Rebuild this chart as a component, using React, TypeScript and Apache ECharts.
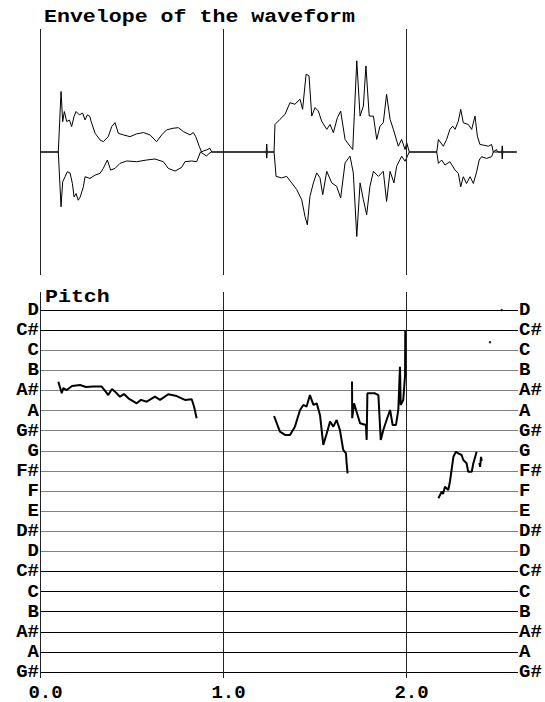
import React, { useEffect, useRef } from "react";
import * as echarts from "echarts";

// Time axis (seconds)
const xMin = 0;
const xMax = 2.612;
const timeTicks = [0, 1, 2];

// Note names, from the lowest line (index 0) to the highest
const noteNames = ["G#", "A", "A#", "B", "C", "C#", "D", "D#", "E", "F", "F#", "G", "G#", "A", "A#", "B", "C", "C#", "D"];
// Line shade per note line (same order)
const noteLineShade = ["#000", "#000", "#000", "#000", "#000", "#000", "#808080", "#808080", "#808080", "#808080", "#808080", "#808080", "#808080", "#808080", "#808080", "#808080", "#808080", "#000", "#000"];

// Upper envelope [time, amplitude]
const envUpper: [number, number][] = [
  [0, 0], [0.1, 0], [0.115, 0.492], [0.124, 0.247], [0.133, 0.329], [0.146, 0.247], [0.161, 0.26], [0.173, 0.207],
  [0.186, 0.288], [0.197, 0.329], [0.215, 0.302], [0.233, 0.316], [0.246, 0.261], [0.259, 0.302], [0.273, 0.288],
  [0.279, 0.25], [0.301, 0.152], [0.328, 0.098], [0.346, 0.084], [0.373, 0.125], [0.392, 0.207], [0.41, 0.239],
  [0.428, 0.152], [0.455, 0.139], [0.492, 0.125], [0.528, 0.147], [0.565, 0.158], [0.601, 0.139], [0.637, 0.084],
  [0.665, 0.139], [0.692, 0.18], [0.728, 0.193], [0.756, 0.198], [0.783, 0.166], [0.82, 0.139], [0.838, 0.158],
  [0.851, 0.125], [0.871, 0.043], [0.883, 0], [0.895, 0.01], [0.91, 0.016], [0.929, 0.03], [0.938, 0],
  [1.236, 0], [1.239, 0.065], [1.242, 0],
  [1.279, 0], [1.284, 0.224], [1.311, 0.265], [1.339, 0.306], [1.366, 0.401], [1.393, 0.388], [1.421, 0.429],
  [1.435, 0.347], [1.454, 0.633], [1.47, 0.619], [1.485, 0.292], [1.503, 0.361], [1.521, 0.333], [1.539, 0.251],
  [1.567, 0.184], [1.585, 0.224], [1.603, 0.157], [1.625, 0.279], [1.643, 0.333], [1.667, 0.102], [1.694, 0.047],
  [1.709, 0.02], [1.731, 0.741], [1.749, 0.292], [1.767, 0.374], [1.781, 0.7], [1.799, 0.292], [1.822, 0.292],
  [1.84, 0.102], [1.858, 0.21], [1.876, 0.238], [1.894, 0.469], [1.913, 0.265], [1.931, 0.184], [1.958, 0.047],
  [1.976, 0.102], [1.995, 0.02], [2.004, 0.075], [2.018, 0],
  [2.168, 0], [2.177, 0.102], [2.204, 0.047], [2.222, 0.102], [2.24, 0.184], [2.255, 0.21], [2.268, 0.184],
  [2.286, 0.251], [2.299, 0.347], [2.313, 0.238], [2.34, 0.224], [2.359, 0.184], [2.377, 0.292], [2.39, 0.129],
  [2.404, 0.061], [2.423, 0.056], [2.45, 0.047], [2.468, 0.061], [2.477, 0], [2.495, 0.02], [2.5, 0],
  [2.523, 0], [2.526, 0.05], [2.529, 0], [2.605, 0],
];

// Lower envelope [time, amplitude]
const envLower: [number, number][] = [
  [0, 0], [0.1, 0], [0.115, -0.446], [0.124, -0.242], [0.137, -0.201], [0.149, -0.161], [0.164, -0.17],
  [0.177, -0.256], [0.186, -0.365], [0.197, -0.338], [0.209, -0.392], [0.22, -0.365], [0.237, -0.283],
  [0.246, -0.201], [0.273, -0.215], [0.301, -0.188], [0.328, -0.174], [0.346, -0.133], [0.368, -0.065],
  [0.386, -0.147], [0.41, -0.133], [0.437, -0.092], [0.474, -0.073], [0.528, -0.079], [0.583, -0.065],
  [0.628, -0.057], [0.674, -0.079], [0.701, -0.133], [0.738, -0.155], [0.774, -0.125], [0.792, -0.079],
  [0.829, -0.073], [0.856, -0.079], [0.877, 0], [0.893, -0.016], [0.91, -0.033], [0.925, -0.01], [0.938, 0],
  [1.236, 0], [1.239, -0.05], [1.242, 0],
  [1.279, 0], [1.29, -0.198], [1.321, -0.211], [1.348, -0.198], [1.375, -0.251], [1.403, -0.306], [1.43, -0.388],
  [1.448, -0.524], [1.461, -0.592], [1.475, -0.361], [1.494, -0.251], [1.512, -0.17], [1.53, -0.21],
  [1.545, -0.347], [1.567, -0.157], [1.594, -0.251], [1.621, -0.279], [1.643, -0.374], [1.667, -0.088],
  [1.694, -0.034], [1.712, -0.17], [1.731, -0.687], [1.749, -0.251], [1.767, -0.388], [1.785, -0.51],
  [1.803, -0.279], [1.822, -0.157], [1.849, -0.198], [1.876, -0.157], [1.894, -0.402], [1.913, -0.157],
  [1.934, -0.251], [1.949, -0.116], [1.976, -0.034], [1.995, -0.075], [2.018, 0],
  [2.168, 0], [2.177, -0.092], [2.195, -0.065], [2.213, -0.106], [2.24, -0.079], [2.268, -0.147],
  [2.286, -0.174], [2.299, -0.283], [2.313, -0.201], [2.331, -0.256], [2.35, -0.201], [2.368, -0.256],
  [2.386, -0.161], [2.4, -0.065], [2.413, -0.038], [2.44, -0.052], [2.468, -0.038], [2.477, 0], [2.5, 0],
  [2.523, 0], [2.526, -0.057], [2.529, 0], [2.605, 0],
];

// Pitch track [time, semitone index on the note scale]; null breaks the line
const pitchTrack: ([number, number] | [number, null])[] = [
  [0.1, 14.43], [0.119, 13.86], [0.127, 14.12], [0.146, 14.02], [0.175, 14.22], [0.219, 14.27], [0.251, 14.17],
  [0.291, 14.19], [0.337, 14.19], [0.361, 13.92], [0.373, 13.77], [0.393, 14.07], [0.41, 13.94], [0.437, 13.69],
  [0.459, 13.82], [0.483, 13.61], [0.528, 13.36], [0.552, 13.53], [0.583, 13.44], [0.628, 13.69], [0.656, 13.53],
  [0.701, 13.81], [0.747, 13.72], [0.792, 13.53], [0.829, 13.56], [0.842, 13.19], [0.856, 12.62],
  [0.9, null],
  [1.279, 12.73], [1.311, 11.95], [1.339, 11.79], [1.366, 11.79], [1.393, 12.2], [1.421, 13.03], [1.439, 13.28],
  [1.457, 13.2], [1.475, 13.77], [1.494, 13.28], [1.512, 13.36], [1.53, 12.78], [1.548, 11.29], [1.567, 11.87],
  [1.585, 12.45], [1.603, 12.2], [1.621, 12.53], [1.639, 12.03], [1.657, 11.04], [1.672, 10.87], [1.675, 10.44],
  [1.681, 9.88],
  [1.69, null],
  [1.705, 14.44], [1.706, 12.62], [1.716, 13.36], [1.749, 12.37], [1.781, 12.28], [1.785, 11.54], [1.789, 13.86],
  [1.831, 13.86], [1.849, 13.77], [1.862, 11.54], [1.876, 12.03], [1.894, 12.53], [1.913, 13.03], [1.927, 12.28],
  [1.945, 12.28], [1.958, 13.03], [1.967, 15.18], [1.971, 13.28], [1.985, 13.53], [1.995, 14.77], [1.996, 17.0],
  [2.1, null],
  [2.177, 8.64], [2.195, 8.97], [2.202, 8.85], [2.213, 9.21], [2.231, 9.05], [2.24, 9.46], [2.259, 10.7],
  [2.273, 10.95], [2.286, 10.87], [2.304, 10.79], [2.313, 10.54], [2.331, 10.38], [2.34, 9.96], [2.359, 9.96],
  [2.368, 10.38], [2.386, 10.95],
  [2.395, null],
  [2.401, 10.4], [2.405, 10.2], [2.41, 10.7], [2.414, 10.5],
];

// Isolated pitch points
const pitchDots: [number, number][] = [[2.459, 16.4], [2.523, 18.0]];

const FONT = "'Liberation Mono', 'Courier New', monospace";

export default function App() {
  const ref = useRef<HTMLDivElement>(null);
  useEffect(() => {
    if (!ref.current) return;
    const chart = echarts.init(ref.current, undefined, { renderer: "svg" });
    const labelStyle = { fontFamily: FONT, fontWeight: "bold" as const, fontSize: 19, color: "#000" };
    const noteAxis = (position: "left" | "right") => ({
      type: "value" as const,
      gridIndex: 1,
      position,
      min: 0,
      max: noteNames.length - 1,
      interval: 1,
      axisLine: { show: false },
      axisTick: { show: false },
      splitLine: {
        show: position === "left",
        lineStyle: { color: noteLineShade, width: 1 },
      },
      axisLabel: {
        ...labelStyle,
        margin: 1,
        formatter: (v: number) => noteNames[Math.round(v)] ?? "",
      },
    });
    const vLines = {
      symbol: ["none", "none"],
      silent: true,
      label: { show: false },
      lineStyle: { color: "#222", width: 1, type: "solid" as const },
      data: timeTicks.map((t) => ({ xAxis: t })),
    };
    chart.setOption({
      animation: false,
      backgroundColor: "#fff",
      grid: [
        { left: 40, top: 29, width: 478, height: 246 },
        { left: 40, top: 310, width: 478, height: 362 },
        { left: 40, top: 292, width: 478, height: 390 },
      ],
      xAxis: [
        { type: "value", gridIndex: 0, min: xMin, max: xMax, show: false },
        { type: "value", gridIndex: 1, min: xMin, max: xMax, show: false },
        {
          type: "value",
          gridIndex: 2,
          min: xMin,
          max: xMax,
          interval: 1,
          axisLine: { show: false },
          axisTick: { show: false },
          splitLine: { show: false },
          axisLabel: {
            ...labelStyle,
            margin: 5,
            padding: [0, 0, 0, 11],
            showMaxLabel: false,
            formatter: (v: number) => v.toFixed(1),
          },
        },
      ],
      yAxis: [
        { type: "value", gridIndex: 0, min: -1, max: 1, show: false },
        noteAxis("left"),
        noteAxis("right"),
        { type: "value", gridIndex: 2, min: 0, max: 1, show: false },
      ],
      graphic: [
        {
          type: "text",
          x: 44,
          y: 17,
          scaleX: 1.2,
          style: { text: "Envelope of the waveform", font: `bold 18px ${FONT}`, fill: "#000", verticalAlign: "middle" },
        },
        {
          type: "text",
          x: 45,
          y: 297,
          scaleX: 1.2,
          style: { text: "Pitch", font: `bold 18px ${FONT}`, fill: "#000", verticalAlign: "middle" },
        },
      ],
      series: [
        {
          type: "line",
          xAxisIndex: 0,
          yAxisIndex: 0,
          data: envUpper,
          showSymbol: false,
          lineStyle: { color: "#000", width: 1 },
          markLine: vLines,
          silent: true,
        },
        {
          type: "line",
          xAxisIndex: 0,
          yAxisIndex: 0,
          data: envLower,
          showSymbol: false,
          lineStyle: { color: "#000", width: 1 },
          silent: true,
        },
        {
          type: "line",
          xAxisIndex: 2,
          yAxisIndex: 3,
          data: [],
          showSymbol: false,
          markLine: vLines,
          silent: true,
        },
        {
          type: "line",
          xAxisIndex: 1,
          yAxisIndex: 1,
          data: pitchTrack,
          connectNulls: false,
          showSymbol: false,
          lineStyle: { color: "#000", width: 2 },
          silent: true,
        },
        {
          type: "scatter",
          xAxisIndex: 1,
          yAxisIndex: 1,
          data: pitchDots,
          symbolSize: 2.5,
          itemStyle: { color: "#000" },
          silent: true,
        },
      ],
    });
    return () => chart.dispose();
  }, []);
  return <div ref={ref} style={{ position: "fixed", left: 0, top: 0, width: 545, height: 702 }} />;
}
